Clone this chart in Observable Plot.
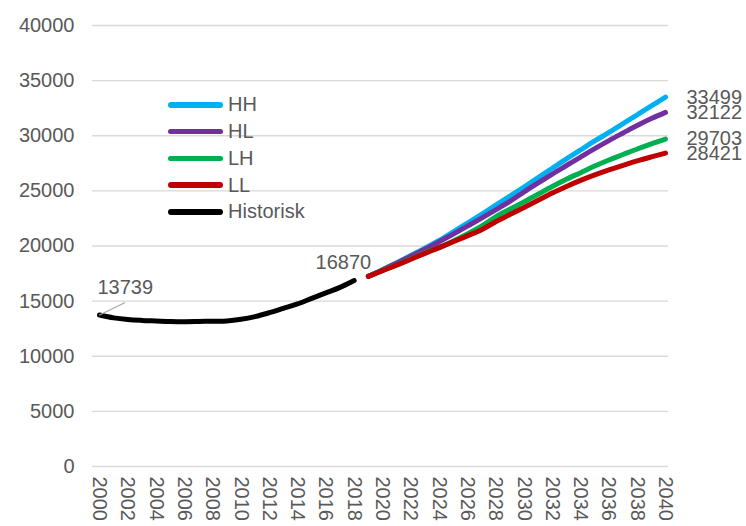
<!DOCTYPE html>
<html><head><meta charset="utf-8">
<script src="https://cdn.jsdelivr.net/npm/d3@7"></script>
<script src="https://cdn.jsdelivr.net/npm/@observablehq/plot@0.6"></script>
<style>
body{margin:0;background:#fff;font-family:"Liberation Sans",Arial,sans-serif;}
#wrap{position:relative;width:746px;height:526px;}
#legend{position:absolute;left:168px;top:91.6px;}
.item{display:flex;align-items:center;height:26.75px;color:#595959;font-size:20px;}
.sw{width:55px;height:5.5px;border-radius:3px;margin-right:5px;}
</style></head><body><div id="wrap"><div id="legend"></div></div>
<script>
const histYears = [2000,2001,2002,2003,2004,2005,2006,2007,2008,2009,2010,2011,2012,2013,2014,2015,2016,2017,2018];
const histValues = [13739,13480,13330,13250,13200,13150,13130,13150,13180,13200,13350,13600,13950,14350,14750,15250,15750,16250,16870];
const projYears = [2019,2020,2021,2022,2023,2024,2025,2026,2027,2028,2029,2030,2031,2032,2033,2034,2035,2036,2037,2038,2039,2040];
const HH = [17250,17850,18480,19130,19800,20500,21280,22080,22880,23700,24520,25350,26200,27050,27900,28720,29530,30300,31100,31900,32700,33499];
const HL = [17250,17830,18440,19060,19700,20380,21080,21800,22530,23280,24040,24900,25720,26530,27300,28070,28830,29560,30250,30930,31560,32122];
const LH = [17250,17780,18300,18830,19380,19850,20450,21100,21800,22650,23330,24000,24700,25400,26050,26650,27250,27800,28300,28800,29270,29703];
const LL = [17250,17760,18270,18800,19330,19850,20380,20920,21480,22200,22850,23500,24150,24800,25400,25950,26450,26900,27320,27720,28080,28421];
const seriesNames = ["HH","HL","LH","LL","Historisk"];
const seriesColors = ["#00b0f0","#7030a0","#00b050","#c00000","#000000"];
const xTicks = [2000,2002,2004,2006,2008,2010,2012,2014,2016,2018,2020,2022,2024,2026,2028,2030,2032,2034,2036,2038,2040];
const yTicks = [0,5000,10000,15000,20000,25000,30000,35000,40000];

const projSeries = [HH, HL, LH, LL];
const projData = projSeries.flatMap((vals, i) => vals.map((v, j) => ({year: projYears[j], value: v, series: seriesNames[i]})));
const histData = histYears.map((y, i) => ({year: y, value: histValues[i]}));
const endData = projSeries.map((vals, i) => ({year: projYears[projYears.length - 1], value: vals[vals.length - 1], series: seriesNames[i]}));
const firstHist = [histData[0]];
const lastHist = [histData[histData.length - 1]];

const textColor = "#595959";
const fs = 20;

const chart = Plot.plot({
  width: 746,
  height: 526,
  marginLeft: 92,
  marginRight: 78,
  marginTop: 25,
  marginBottom: 60,
  style: {fontFamily: '"Liberation Sans", Arial, sans-serif', fontSize: fs + "px", color: textColor, background: "white", overflow: "visible"},
  x: {domain: [2000, 2040], insetLeft: 7, insetRight: 3, ticks: xTicks, tickFormat: d => String(d), tickRotate: 90, tickSize: 0, tickPadding: 10, label: null},
  y: {domain: [0, 40000], ticks: yTicks, tickFormat: d => String(d), tickSize: 0, tickPadding: 18, label: null},
  color: {domain: seriesNames, range: seriesColors},
  marks: [
    Plot.ruleY(yTicks, {stroke: "#d9d9d9", strokeWidth: 1.3}),
    Plot.axisX({ticks: xTicks, tickFormat: d => String(d), tickRotate: 90, tickSize: 0, tickPadding: 10, fontSize: fs, fill: textColor, label: null}),
    Plot.axisY({ticks: yTicks, tickFormat: d => String(d), tickSize: 0, tickPadding: 18, fontSize: fs, fill: textColor, label: null}),
    Plot.line(histData, {x: "year", y: "value", stroke: "#000000", strokeWidth: 5, strokeLinecap: "round", strokeLinejoin: "round", curve: "catmull-rom"}),
    Plot.line(projData, {x: "year", y: "value", z: "series", stroke: "series", strokeWidth: 5, strokeLinecap: "round", strokeLinejoin: "round", curve: "catmull-rom"}),
    Plot.vector(firstHist, {x: "year", y: "value", rotate: 64, length: 28, anchor: "start", stroke: "#a6a6a6", strokeWidth: 1.2,
      shape: {draw(context, l) { context.moveTo(0, 0); context.lineTo(0, -l); }}}),
    Plot.text(firstHist, {x: "year", y: "value", text: d => String(d.value), textAnchor: "start", dx: -2, dy: -27, fontSize: fs, fill: textColor}),
    Plot.text(lastHist, {x: "year", y: "value", text: d => String(d.value), textAnchor: "end", dx: 17, dy: -18, fontSize: fs, fill: textColor}),
    Plot.text(endData, {x: "year", y: "value", text: d => String(d.value), textAnchor: "start", dx: 21, fontSize: fs, fill: textColor})
  ]
});
document.getElementById("wrap").prepend(chart);

const legend = document.getElementById("legend");
seriesNames.forEach((name, i) => {
  const item = document.createElement("div");
  item.className = "item";
  const sw = document.createElement("div");
  sw.className = "sw";
  sw.style.background = seriesColors[i];
  const label = document.createElement("span");
  label.textContent = name;
  item.append(sw, label);
  legend.append(item);
});
</script></body></html>
